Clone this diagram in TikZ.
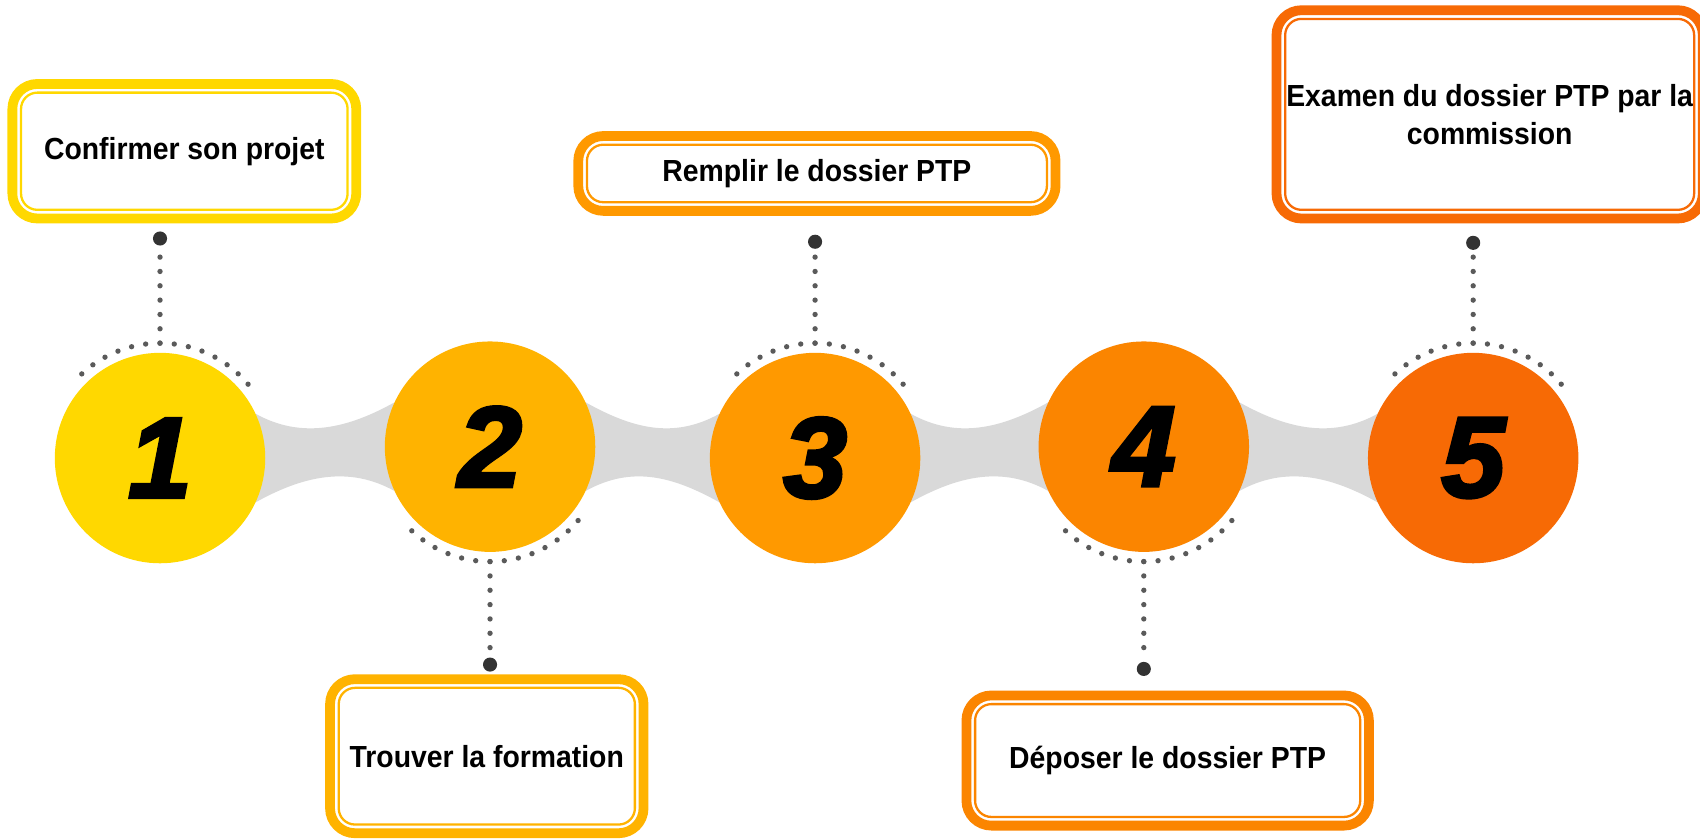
\documentclass[tikz,border=0pt]{standalone}
\usepackage{fontspec}
\setmainfont{Liberation Sans}[FakeStretch=0.93]
\newfontfamily\numfont{Liberation Sans}[FakeBold=3]
\usetikzlibrary{calc}
\definecolor{stepA}{HTML}{FFD800}
\definecolor{stepB}{HTML}{FFB300}
\definecolor{stepC}{HTML}{FF9900}
\definecolor{stepD}{HTML}{FB8500}
\definecolor{stepE}{HTML}{F76A05}
\definecolor{bandc}{HTML}{D9D9D9}
\definecolor{dotc}{HTML}{5A5A5A}
\definecolor{pinc}{HTML}{333333}
\begin{document}
\begin{tikzpicture}[x=0.01cm,y=-0.01cm,
    disc/.style={circle,minimum size=1.94cm,inner sep=0pt,font=\numfont\bfseries\itshape\fontsize{30}{30}\selectfont},
    pin/.style={circle,fill=pinc,minimum size=0.13cm,inner sep=0pt},
    card/.style={draw=#1,line width=0.09cm,rounded corners=0.23cm,fill=white,outer sep=0pt,
        inner sep=0pt,align=center,font=\bfseries\fontsize{8}{10}\selectfont},
    cardline/.style={draw=#1,line width=0.6pt,rounded corners=0.15cm},
    trail/.style={draw=dotc,line width=1.4pt,line cap=round,dash pattern=on 0pt off 3.76pt},
    band/.style={fill=bandc}]
        \clip (0,0) rectangle (1568,774);
        \fill[white] (0,0) rectangle (1568,774);

        \coordinate (o1) at (147.6,422.5);
        \coordinate (o2) at (452,412);
        \coordinate (o3) at (751.8,422.5);
        \coordinate (o4) at (1055,412);
        \coordinate (o5) at (1358.8,422.5);

        \fill[band] ($(o1)+(-25:97)$) .. controls +(43,24) and +(-43,24) .. ($(o2)+(-155:97)$) -- ($(o2)+(155:97)$) .. controls +(-43,-24) and +(43,-24) .. ($(o1)+(25:97)$) -- cycle;
        \fill[band] ($(o2)+(-25:97)$) .. controls +(43,24) and +(-43,24) .. ($(o3)+(-155:97)$) -- ($(o3)+(155:97)$) .. controls +(-43,-24) and +(43,-24) .. ($(o2)+(25:97)$) -- cycle;
        \fill[band] ($(o3)+(-25:97)$) .. controls +(43,24) and +(-43,24) .. ($(o4)+(-155:97)$) -- ($(o4)+(155:97)$) .. controls +(-43,-24) and +(43,-24) .. ($(o3)+(25:97)$) -- cycle;
        \fill[band] ($(o4)+(-25:97)$) .. controls +(43,24) and +(-43,24) .. ($(o5)+(-155:97)$) -- ($(o5)+(155:97)$) .. controls +(-43,-24) and +(43,-24) .. ($(o4)+(25:97)$) -- cycle;

        \node[disc,fill=stepA] (c1) at (o1) {1};
        \node[disc,fill=stepB] (c2) at (o2) {2};
        \node[disc,fill=stepC] (c3) at (o3) {3};
        \node[disc,fill=stepD] (c4) at (o4) {4};
        \node[disc,fill=stepE] (c5) at (o5) {5};

        \draw[trail] ($(o1)+(-40:106)$) arc[start angle=-40,end angle=-140,radius=106];
        \draw[trail] ($(o2)+(40:106)$) arc[start angle=40,end angle=140,radius=106];
        \draw[trail] ($(o3)+(-40:106)$) arc[start angle=-40,end angle=-140,radius=106];
        \draw[trail] ($(o4)+(40:106)$) arc[start angle=40,end angle=140,radius=106];
        \draw[trail] ($(o5)+(-40:106)$) arc[start angle=-40,end angle=-140,radius=106];

        \coordinate (t1) at ($(o1)+(0,-106)$);
        \coordinate (t2) at ($(o2)+(0,106)$);
        \coordinate (t3) at ($(o3)+(0,-106)$);
        \coordinate (t4) at ($(o4)+(0,106)$);
        \coordinate (t5) at ($(o5)+(0,-106)$);

        \node[pin] (d1) at (147.6,220) {};
        \node[pin] (d2) at (452,613) {};
        \node[pin] (d3) at (751.8,223) {};
        \node[pin] (d4) at (1055,617) {};
        \node[pin] (d5) at (1358.8,224) {};

        \draw[trail] (t1) -- (d1);
        \draw[trail] (t2) -- (d2);
        \draw[trail] (t3) -- (d3);
        \draw[trail] (t4) -- (d4);
        \draw[trail] (t5) -- (d5);

        \node[card=stepA,minimum width=3.17cm,minimum height=1.24cm] (b1) at (170,139.5) {Confirmer son projet};
        \node[card=stepB,minimum width=2.89cm,minimum height=1.42cm] (b2) at (449,697.5) {Trouver la formation};
        \node[card=stepC,minimum width=4.40cm,minimum height=0.69cm] (b3) at (753.5,160) {Remplir le dossier PTP};
        \node[card=stepD,minimum width=3.71cm,minimum height=1.20cm] (b4) at (1077,701.5) {Déposer le dossier PTP};
        \node[card=stepE,minimum width=3.93cm,minimum height=1.92cm] (b5) at (1374,105.5) {Examen du dossier PTP par la\\commission};

        \draw[cardline=stepA] ($(b1.north west)+(8,8)$) rectangle ($(b1.south east)+(-8,-8)$);
        \draw[cardline=stepB] ($(b2.north west)+(8,8)$) rectangle ($(b2.south east)+(-8,-8)$);
        \draw[cardline=stepC] ($(b3.north west)+(8,8)$) rectangle ($(b3.south east)+(-8,-8)$);
        \draw[cardline=stepD] ($(b4.north west)+(8,8)$) rectangle ($(b4.south east)+(-8,-8)$);
        \draw[cardline=stepE] ($(b5.north west)+(8,8)$) rectangle ($(b5.south east)+(-8,-8)$);
    \end{tikzpicture}
\end{document}
